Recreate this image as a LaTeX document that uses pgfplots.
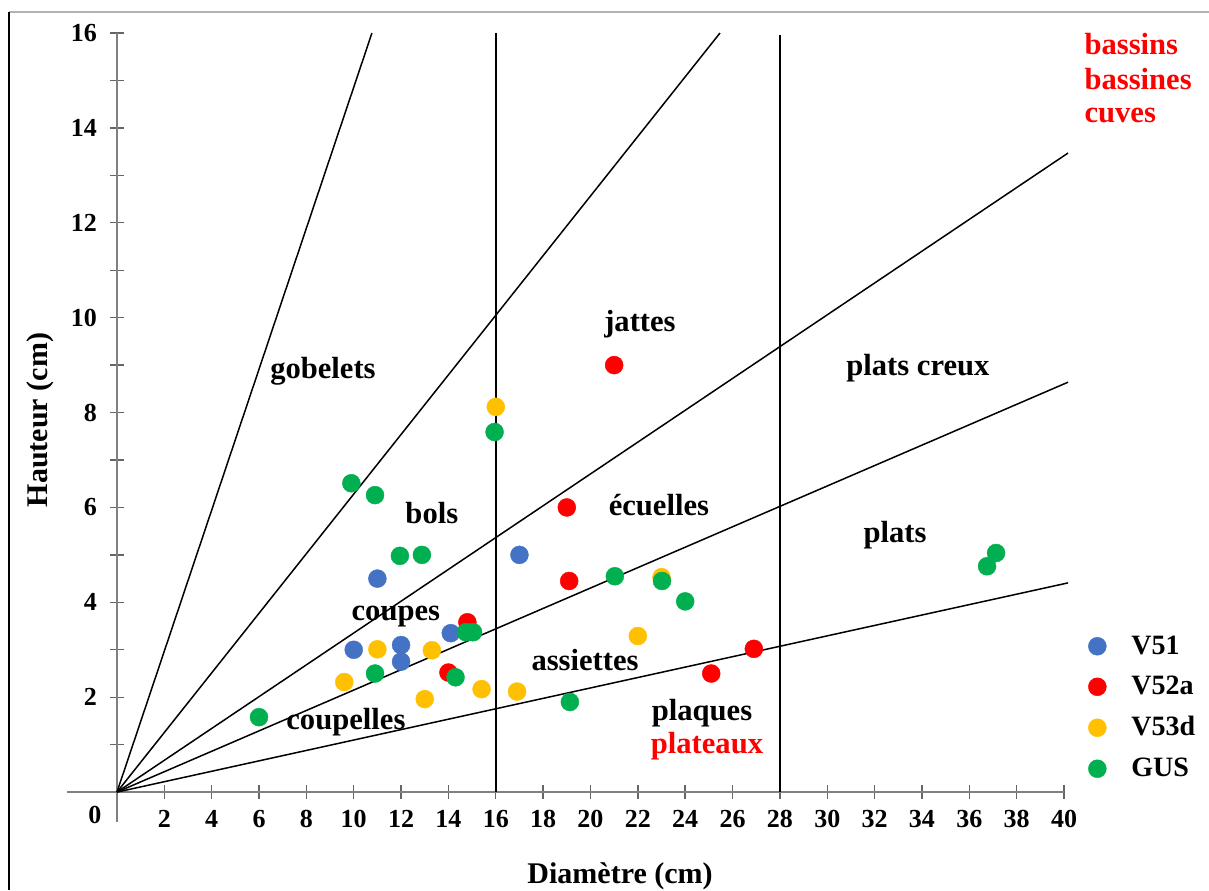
\documentclass[border=0pt]{standalone}
\usepackage{fontspec}
\setmainfont{Liberation Serif}
\usepackage{pgfplots}
\usepackage{pgfplotstable}
\pgfplotsset{compat=1.18}
\definecolor{cblue}{HTML}{4472C4}
\definecolor{cred}{HTML}{FF0000}
\definecolor{cyellow}{HTML}{FFC000}
\definecolor{cgreen}{HTML}{00B050}

\pgfplotstableread{
x y
10 3
11 4.5
12 3.1
12 2.75
14.1 3.35
17 5
}\vA
\pgfplotstableread{
x y
21 9
19 6
19.1 4.45
14.8 3.58
14 2.52
25.1 2.5
26.9 3.02
}\vB
\pgfplotstableread{
x y
16 8.12
11 3.01
9.6 2.32
13 1.96
13.3 2.99
15.4 2.17
16.9 2.12
22 3.29
23 4.53
}\vC
\pgfplotstableread{
x y
6 1.58
9.9 6.51
10.9 6.26
11.95 4.98
12.88 5.0
10.9 2.5
14.3 2.42
14.74 3.37
15.04 3.37
15.95 7.59
21.03 4.55
23.02 4.45
24 4.02
19.13 1.9
36.75 4.76
37.13 5.04
}\vD

\begin{document}
\begin{tikzpicture}
\useasboundingbox (-33.5pt,-34pt) rectangle (571pt,411pt);
\draw[gray!60, line width=1pt] (-29pt,405pt) -- (571pt,405pt);
\draw[black, line width=1pt] (-29pt,405pt) -- (-29pt,-34pt);
\begin{axis}[
  at={(0pt,0pt)}, anchor=south west,
  scale only axis, width=498.5pt, height=394.5pt,
  xmin=-2.11, xmax=40, ymin=-0.63, ymax=16,
  axis lines=middle,
  axis line style={gray, line width=0.8pt, -},
  clip=false,
  xtick={2,4,...,40}, ytick={2,4,...,16},
  minor ytick={1,3,...,15},
  tick align=center,
  major tick length=7pt, minor tick length=7pt,
  tick style={gray!80!black, line width=0.7pt},
  /pgf/number format/assume math mode=true,
  ticklabel style={font=\bfseries\fontsize{13}{14}\selectfont},
  yticklabel style={xshift=-3pt},
  xticklabel style={yshift=-2pt},
  xlabel={Diamètre (cm)},
  ylabel={Hauteur (cm)},
  xlabel style={at={(rel axis cs:0.5547,-0.0684)}, anchor=center, font=\bfseries\fontsize{15}{18}\selectfont},
  ylabel style={at={(rel axis cs:-0.027,0.5095)}, anchor=center, rotate=90, font=\bfseries\fontsize{15}{18}\selectfont},
  legend style={at={(rel axis cs:1.018,0.247)}, anchor=north west, draw=none, fill=none,
    font=\bfseries\fontsize{14}{16}\selectfont, row sep=5.5pt,
    nodes={inner xsep=6pt}},
  legend cell align=left,
  legend image code/.code={\draw[#1] plot coordinates {(0.3cm,0cm)};
    \path[draw=none, fill=none] (0.3cm,0cm) rectangle ([xshift=11pt]0.3cm,0cm);},
  every axis plot/.append style={line width=0.75pt},
]
% guide lines
\addplot[black, forget plot] coordinates {(0,0) (10.77,16)};
\addplot[black, forget plot] coordinates {(0,0) (25.47,16)};
\addplot[black, forget plot] coordinates {(0,0) (40.17,13.47)};
\addplot[black, forget plot] coordinates {(0,0) (40.17,8.64)};
\addplot[black, forget plot] coordinates {(0,0) (40.17,4.41)};
\addplot[black, forget plot] coordinates {(16,0) (16,16)};
\addplot[black, forget plot] coordinates {(28,0) (28,15.96)};
% data
\addplot[only marks, mark=*, color=cblue, mark size=4.5pt, mark options={line width=0.2pt}] table {\vA};
\addlegendentry{V51}
\addplot[only marks, mark=*, color=cred, mark size=4.5pt, mark options={line width=0.2pt}] table {\vB};
\addlegendentry{V52a}
\addplot[only marks, mark=*, color=cyellow, mark size=4.5pt, mark options={line width=0.2pt}] table {\vC};
\addlegendentry{V53d}
\addplot[only marks, mark=*, color=cgreen, mark size=4.5pt, mark options={line width=0.2pt}] table {\vD};
\addlegendentry{GUS}
% labels
\begin{scope}[every node/.style={font=\bfseries\fontsize{15.3}{17}\selectfont, inner sep=0pt}]
\node at (axis cs:-0.93,-0.48) {\fontsize{13}{14}\selectfont 0};
\node at (axis cs:8.70,8.87) {gobelets};
\node at (axis cs:13.30,5.88) {bols};
\node at (axis cs:11.78,3.69) {coupes};
\node at (axis cs:9.67,1.48) {coupelles};
\node at (axis cs:22.09,9.87) {jattes};
\node at (axis cs:22.89,6.05) {écuelles};
\node at (axis cs:19.77,2.78) {assiettes};
\node at (axis cs:24.71,1.67) {plaques};
\node[text=red] at (axis cs:24.92,0.97) {plateaux};
\node at (axis cs:33.83,8.94) {plats creux};
\node at (axis cs:32.86,5.42) {plats};
\node[text=red, anchor=west] at (axis cs:40.85,15.77) {bassins};
\node[text=red, anchor=west] at (axis cs:40.85,15.03) {bassines};
\node[text=red, anchor=west] at (axis cs:40.85,14.27) {cuves};
\end{scope}
\end{axis}
\end{tikzpicture}
\end{document}
